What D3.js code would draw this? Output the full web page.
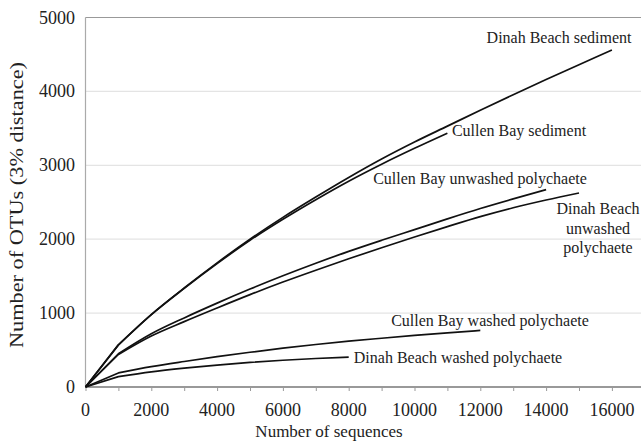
<!DOCTYPE html>
<html><head><meta charset="utf-8">
<script src="https://cdn.jsdelivr.net/npm/d3@7"></script>
<style>
html,body{margin:0;padding:0;background:#fff;overflow:hidden;}
</style></head>
<body>
<svg id="chart" width="641" height="442" font-family="Liberation Serif, Times New Roman, DejaVu Serif, serif"></svg>
<script>
const seqSteps = [0,1000,2000,3000,4000,5000,6000,7000,8000,9000,10000,11000,12000,13000,14000,15000,16000];
const dinahSediment   = [0,570,980,1340,1680,2000,2295,2570,2835,3085,3315,3530,3745,3955,4160,4360,4560];
const cullenSediment  = [0,570,980,1335,1670,1985,2270,2535,2785,3015,3230,3435];
const cullenUnwashed  = [0,450,720,935,1135,1325,1505,1675,1835,1985,2130,2275,2415,2545,2670];
const dinahUnwashed   = [0,440,690,885,1070,1250,1420,1580,1735,1885,2030,2170,2305,2425,2530,2625];
const cullenWashed    = [0,190,275,345,410,470,525,575,620,660,698,733,765];
const dinahWashed     = [0,140,205,255,297,333,362,386,405];
const seriesNames = ["Dinah Beach sediment","Cullen Bay sediment","Cullen Bay unwashed polychaete","Dinah Beach unwashed polychaete","Cullen Bay washed polychaete","Dinah Beach washed polychaete"];
const seriesValues = [dinahSediment,cullenSediment,cullenUnwashed,dinahUnwashed,cullenWashed,dinahWashed];
const xTickValues = [0,2000,4000,6000,8000,10000,12000,14000,16000];
const xMinorTicks = d3.range(0,17001,1000);
const yTickValues = [0,1000,2000,3000,4000,5000];
const xTitle = "Number of sequences";
const yTitle = "Number of OTUs (3% distance)";

const svg = d3.select("#chart");
const x = d3.scaleLinear().domain([0,17000]).range([85.5,644.8]);
const y = d3.scaleLinear().domain([0,5000]).range([387,17.5]);
const ink = "#222";

svg.append("g").selectAll("line").data(yTickValues.filter(d=>d>0)).join("line")
  .attr("x1",x(0)).attr("x2",641).attr("y1",d=>y(d)).attr("y2",d=>y(d))
  .attr("stroke","#e4e4e4").attr("stroke-width",1.2);

svg.append("line").attr("x1",x(0)).attr("x2",641).attr("y1",y(5000)).attr("y2",y(5000)).attr("stroke","#999").attr("stroke-width",1.2);
svg.append("line").attr("x1",x(0)).attr("x2",x(0)).attr("y1",y(5000)).attr("y2",y(0)).attr("stroke","#aaa").attr("stroke-width",1.2);

const xAxis = d3.axisBottom(x).tickValues(xMinorTicks).tickSize(4).tickFormat("");
const gx = svg.append("g").attr("transform",`translate(0,${y(0)})`).call(xAxis);
gx.select(".domain").remove();
gx.selectAll(".tick line").attr("stroke","#999");
svg.append("line").attr("x1",x(0)).attr("x2",641).attr("y1",y(0)).attr("y2",y(0)).attr("stroke","#999").attr("stroke-width",2);
svg.append("g").selectAll("text").data(xTickValues).join("text")
  .attr("x",d=>x(d)).attr("y",416).attr("text-anchor","middle").attr("font-size",18).attr("fill",ink).text(d=>d);

svg.append("g").selectAll("text").data(yTickValues).join("text")
  .attr("x",75).attr("y",d=>y(d)+6).attr("text-anchor","end").attr("font-size",18).attr("fill",ink).text(d=>d);

svg.append("text").attr("x",329).attr("y",437).attr("text-anchor","middle").attr("font-size",17).attr("fill",ink).text(xTitle);
svg.append("text").attr("transform","translate(23,205) rotate(-90)").attr("text-anchor","middle").attr("font-size",18).attr("fill",ink)
  .attr("textLength",286).attr("lengthAdjust","spacingAndGlyphs").text(yTitle);

// first segment straight (origin to first sample), then smooth
const seg = d3.line().x(d=>x(d[0])).y(d=>y(d[1]));
const smooth = d3.line().x(d=>x(d[0])).y(d=>y(d[1])).curve(d3.curveMonotoneX);
const gLines = svg.append("g").attr("fill","none").attr("stroke","#111").attr("stroke-width",1.7).attr("stroke-linejoin","round");
seriesValues.forEach(vals=>{
  const pts = vals.map((v,i)=>[seqSteps[i],v]);
  const p1 = seg(pts.slice(0,2));
  const p2 = smooth(pts.slice(1)).replace(/^M[^CLA-Z]*/i,"");
  gLines.append("path").attr("d", p1 + p2);
});

const labels = [
  {t:["Dinah Beach sediment"], x:559, y:43},
  {t:["Cullen Bay sediment"], x:519, y:136},
  {t:["Cullen Bay unwashed polychaete"], x:480, y:184},
  {t:["Dinah Beach","unwashed","polychaete"], x:598, y:214},
  {t:["Cullen Bay washed polychaete"], x:490, y:326},
  {t:["Dinah Beach washed polychaete"], x:458, y:363}
];
labels.forEach(l=>{
  const tx = svg.append("text").attr("x",l.x).attr("y",l.y).attr("text-anchor","middle").attr("font-size",16).attr("fill",ink);
  l.t.forEach((s,i)=>tx.append("tspan").attr("x",l.x).attr("dy",i?19.5:0).text(s));
});
</script>
</body></html>
